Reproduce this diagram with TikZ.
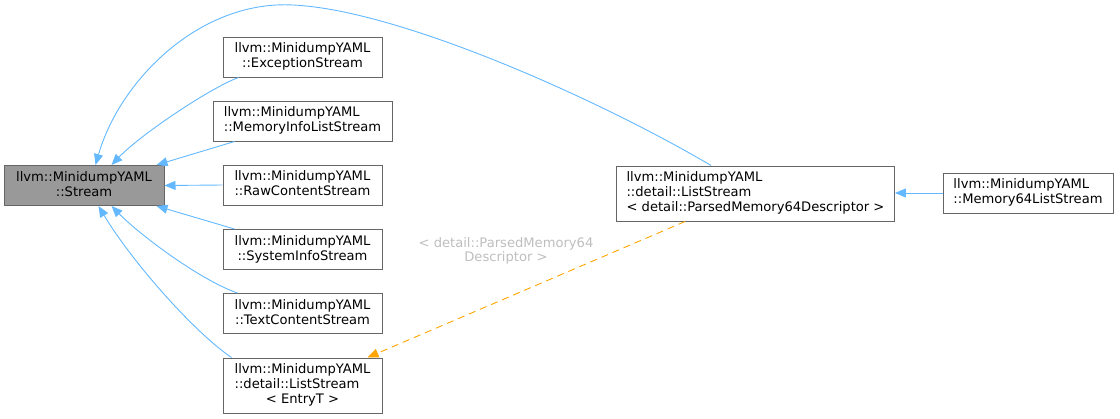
\documentclass[tikz,border=0pt]{standalone}
\usepackage{fontspec}
\setmainfont{DejaVu Sans}
\usetikzlibrary{arrows.meta}
\definecolor{edgeblue}{HTML}{63B8FF}
\definecolor{edgeorange}{HTML}{FFA500}
\definecolor{boxline}{HTML}{666666}
\definecolor{boxfill}{HTML}{999999}
\definecolor{lblgray}{HTML}{BEBEBE}
\newcommand\lastc[1]{\multicolumn{1}{@{}c@{}}{#1}}
\begin{document}
\begin{tikzpicture}[x=1pt,y=-1pt,
  every node/.style={font=\fontsize{13.1}{15}\selectfont},
  cls/.style={draw=boxline,line width=1pt,fill=white,inner xsep=10pt,inner ysep=4pt,minimum height=40pt},
  cls3/.style={cls,minimum height=55pt},
  inh/.style={draw=edgeblue,line width=0.9pt,-{Triangle[length=11pt,width=9pt]}},
  tmpl/.style={draw=edgeorange,line width=0.9pt,dash pattern=on 7pt off 5pt,-{Triangle[length=11pt,width=9pt]}},
  tlabel/.style={text=lblgray,font=\fontsize{13.1}{14}\selectfont}]
\useasboundingbox (0,0) rectangle (1120,418);

\node[cls,fill=boxfill,minimum width=160pt] (stream) at (84,185.5)
  {\begin{tabular}{@{}l@{}}llvm::MinidumpYAML\\\lastc{::Stream}\end{tabular}};
\node[cls,minimum width=159pt] (exc) at (302.5,57)
  {\begin{tabular}{@{}l@{}}llvm::MinidumpYAML\\\lastc{::ExceptionStream}\end{tabular}};
\node[cls,minimum width=179pt] (mem) at (302.5,121)
  {\begin{tabular}{@{}l@{}}llvm::MinidumpYAML\\\lastc{::MemoryInfoListStream}\end{tabular}};
\node[cls,minimum width=159pt] (raw) at (302.5,185)
  {\begin{tabular}{@{}l@{}}llvm::MinidumpYAML\\\lastc{::RawContentStream}\end{tabular}};
\node[cls,minimum width=159pt] (sys) at (302.5,249.5)
  {\begin{tabular}{@{}l@{}}llvm::MinidumpYAML\\\lastc{::SystemInfoStream}\end{tabular}};
\node[cls,minimum width=159pt] (txt) at (302.5,313.5)
  {\begin{tabular}{@{}l@{}}llvm::MinidumpYAML\\\lastc{::TextContentStream}\end{tabular}};
\node[cls3,minimum width=159pt] (liste) at (302.5,385.5)
  {\begin{tabular}{@{}l@{}}llvm::MinidumpYAML\\::detail::ListStream\\\lastc{< EntryT >}\end{tabular}};
\node[cls3,minimum width=277pt] (listp) at (755.5,193.5)
  {\begin{tabular}{@{}l@{}}llvm::MinidumpYAML\\::detail::ListStream\\\lastc{< detail::ParsedMemory64Descriptor >}\end{tabular}};
\node[cls,minimum width=170pt] (m64) at (1028,193)
  {\begin{tabular}{@{}l@{}}llvm::MinidumpYAML\\\lastc{::Memory64ListStream}\end{tabular}};

% inheritance edges
\draw[inh] ([xshift=16pt]exc.south west) .. controls (210,88) and (140,135) .. ([xshift=108pt]stream.north west);
\draw[inh] ([xshift=22pt]mem.south west) -- ([xshift=153pt]stream.north west);
\draw[inh] (raw.west) -- (stream.east);
\draw[inh] ([xshift=12pt]sys.north west) -- ([xshift=153pt]stream.south west);
\draw[inh] ([xshift=15pt]txt.north west) .. controls (200,280) and (140,235) .. ([xshift=108pt]stream.south west);
\draw[inh] ([xshift=9pt]liste.north west) .. controls (195,333) and (132,262) .. ([xshift=95pt]stream.south west);
\draw[inh] ([xshift=95pt]listp.north west) .. controls (600,100) and (400,10) .. (293,5)
  .. controls (200,0) and (120,80) .. ([xshift=92pt]stream.north west);
\draw[inh] (m64.west) -- (listp.east |- m64.west);

% template instantiation
\draw[tmpl] ([xshift=69pt]listp.south west) -- ([xshift=145pt]liste.north west);
\node[tlabel,align=center] (tl) at (506,251) {< detail::ParsedMemory64\\Descriptor >};
\end{tikzpicture}
\end{document}
